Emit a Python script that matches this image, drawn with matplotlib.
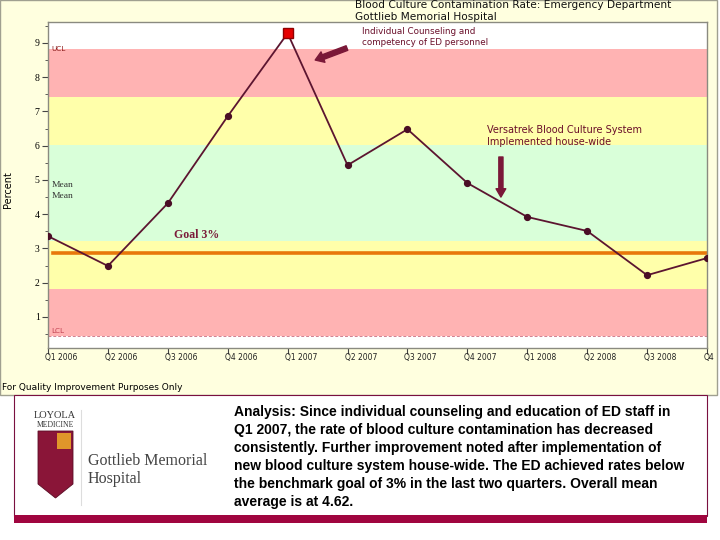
import matplotlib.pyplot as plt
from matplotlib.patches import Rectangle, Polygon

# quarterly ED blood culture contamination rate (%)
quarters = ['Q1 2006', 'Q2 2006', 'Q3 2006', 'Q4 2006', 'Q1 2007', 'Q2 2007',
            'Q3 2007', 'Q4 2007', 'Q1 2008', 'Q2 2008', 'Q3 2008', 'Q4 2008']
rates = [3.36, 2.49, 4.32, 6.86, 9.28, 5.43, 6.48, 4.91, 3.92, 3.51, 2.22, 2.72]
# control chart zones: LCL, -2s, -1s, +1s, +2s, UCL
zone_edges = [0.45, 1.82, 3.22, 6.01, 7.41, 8.82]
zone_colors = ['#ffb3b3', '#ffffaa', '#d9ffd9', '#ffffaa', '#ffb3b3']
goal = 2.88
peak_idx = 4

W, H = 720, 540
fig = plt.figure(figsize=(7.2, 5.4), dpi=100)
fig.patch.set_facecolor('white')


def fx(x):
    return x / W


def fy(y):
    return 1 - y / H


# cream chart panel
fig.patches.append(Rectangle((fx(0), fy(395)), fx(717), 395 / H, transform=fig.transFigure,
                             facecolor='#ffffdf', edgecolor='#a0a090', lw=1, zorder=0))
# white analysis panel with maroon frame
fig.patches.append(Rectangle((fx(14), fy(516)), fx(707 - 14), 121 / H, transform=fig.transFigure,
                             facecolor='white', edgecolor='#7a1040', lw=0.8, zorder=0))
fig.patches.append(Rectangle((fx(14), fy(523)), fx(707 - 14), 8 / H, transform=fig.transFigure,
                             facecolor='#a0053f', edgecolor='none', zorder=1))

ax = fig.add_axes([fx(48), fy(348), fx(707 - 48), (348 - 22) / H])
ax.set_zorder(5)
ax.set_facecolor('white')
ax.set_xlim(0, len(rates) - 1)
ax.set_ylim(0.095, 9.61)

for lo, hi, c in zip(zone_edges[:-1], zone_edges[1:], zone_colors):
    ax.axhspan(lo, hi, color=c, lw=0, zorder=0)
ax.axhline(zone_edges[0], color='#d08090', lw=0.7, ls=(0, (3, 2)), zorder=1)

ax.plot([0.08, len(rates) - 1], [goal, goal], color='#e8780a', lw=2.6, zorder=2)

x = list(range(len(rates)))
ax.plot(x, rates, color='#5c1530', lw=1.3, marker='o', ms=4.2,
        mfc='#4a0e26', mec='#4a0e26', zorder=3)
ax.plot(peak_idx, rates[peak_idx], marker='s', ms=7, mfc='#e60000', mec='#900000', zorder=4)

ax.set_xticks(x)
ax.set_xticklabels([])
ax.set_yticks(range(1, 10))
ax.set_yticklabels([str(v) for v in range(1, 10)], fontsize=7, family='Liberation Serif')
ax.set_yticks([v + 0.5 for v in range(0, 10)], minor=True)
ax.tick_params(axis='y', which='major', length=4, width=0.8, pad=2, color='#444444')
ax.tick_params(axis='y', which='minor', length=2, width=0.6, color='#444444')
ax.tick_params(axis='x', length=4, width=0.8, color='#444444')
for s in ax.spines.values():
    s.set_color('#8a8a80')
    s.set_linewidth(1)

for i, q in enumerate(quarters[:-1]):
    ax.text(i - 0.05, -0.015, q, transform=ax.get_xaxis_transform(), fontsize=5.5,
            ha='left', va='top', color='#222222', clip_on=False)
ax.text(len(quarters) - 1.05, -0.015, quarters[-1][:2], transform=ax.get_xaxis_transform(),
        fontsize=5.5, ha='left', va='top', color='#222222')

ax.text(0.06, 8.72, 'UCL', fontsize=5.2, color='#8b1a1a', va='bottom')
ax.text(0.06, 0.5, 'LCL', fontsize=5.2, color='#c04050', va='bottom')
ax.text(0.06, 4.84, 'Mean', fontsize=6.8, family='Liberation Serif', va='center', color='#333333')
ax.text(0.06, 4.52, 'Mean', fontsize=6.8, family='Liberation Serif', va='center', color='#333333')
ax.text(2.1, 3.4, 'Goal 3%', fontsize=8.5, family='Liberation Serif', weight='bold',
        color='#7b1b3a', va='center')

# interventions
ax.annotate('', xy=(4.46, 8.5), xytext=(4.99, 8.85),
            arrowprops=dict(facecolor='#7a1838', edgecolor='#7a1838', width=3.5,
                            headwidth=8, headlength=6))
ax.annotate('', xy=(7.56, 4.5), xytext=(7.56, 5.67),
            arrowprops=dict(facecolor='#7a1838', edgecolor='#7a1838', width=3,
                            headwidth=7, headlength=6))
fig.text(fx(362), fy(37), 'Individual Counseling and\ncompetency of ED personnel',
         fontsize=6.3, color='#6a0f2a', va='center', linespacing=1.25, zorder=6)
fig.text(fx(487), fy(136), 'Versatrek Blood Culture System\nImplemented house-wide',
         fontsize=7, color='#6a0f2a', va='center', linespacing=1.25, zorder=6)

fig.text(fx(355), fy(5.5), 'Blood Culture Contamination Rate: Emergency Department',
         fontsize=7.6, color='#111111', va='center')
fig.text(fx(355), fy(16.5), 'Gottlieb Memorial Hospital',
         fontsize=7.6, color='#111111', va='center')
fig.text(fx(8), fy(190), 'Percent', rotation=90, fontsize=7, va='center', ha='center')
fig.text(fx(2), fy(388), 'For Quality Improvement Purposes Only', fontsize=6.5, va='center')

# logo block
fig.text(fx(55), fy(416), 'LOYOLA', fontsize=7.5, family='Liberation Serif', ha='center',
         va='center', color='#333333')
fig.text(fx(55), fy(425), 'MEDICINE', fontsize=5.5, family='Liberation Serif', ha='center',
         va='center', color='#333333')
shield = Polygon([[fx(38), fy(431)], [fx(73), fy(431)], [fx(73), fy(484)], [fx(55.5), fy(498)],
                  [fx(38), fy(484)]], closed=True, transform=fig.transFigure,
                 facecolor='#8a1538', edgecolor='#5a0c25', lw=0.6)
fig.patches.append(shield)
fig.patches.append(Rectangle((fx(57), fy(449)), fx(14), 16 / H, transform=fig.transFigure,
                             facecolor='#e0962a', edgecolor='none'))
fig.lines.append(plt.Line2D([fx(81), fx(81)], [fy(410), fy(505)], transform=fig.transFigure,
                            color='#dddddd', lw=0.8))
fig.text(fx(88), fy(470), 'Gottlieb Memorial\nHospital', fontsize=11.5, family='Liberation Serif',
         color='#444444', va='center', linespacing=1.2)

analysis = ('Analysis: Since individual counseling and education of ED staff in\n'
            'Q1 2007, the rate of blood culture contamination has decreased\n'
            'consistently. Further improvement noted after implementation of\n'
            'new blood culture system house-wide. The ED achieved rates below\n'
            'the benchmark goal of 3% in the last two quarters. Overall mean\n'
            'average is at 4.62.')
fig.text(fx(234), fy(457), analysis, fontsize=10, weight='bold', family='Liberation Sans',
         va='center', linespacing=1.38, color='#000000')

fig.savefig('out.png', dpi=100)
